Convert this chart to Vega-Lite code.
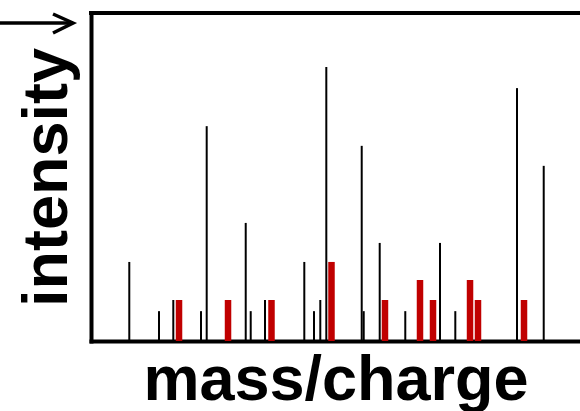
{
  "$schema": "https://vega.github.io/schema/vega-lite/v6.json",
  "width": 489,
  "height": 328,
  "autosize": {"type": "none"},
  "padding": {"left": 91, "top": 13, "right": 0, "bottom": 70},
  "background": "white",
  "config": {"view": {"stroke": null}, "axis": {"zindex": 1}},
  "datasets": {
    "peaks": [
      {"mz": 78.3, "intensity": 24.1, "series": "unmatched"},
      {"mz": 139.1, "intensity": 9.1, "series": "unmatched"},
      {"mz": 168.3, "intensity": 12.5, "series": "unmatched"},
      {"mz": 225.0, "intensity": 9.1, "series": "unmatched"},
      {"mz": 236.6, "intensity": 65.5, "series": "unmatched"},
      {"mz": 316.4, "intensity": 36.0, "series": "unmatched"},
      {"mz": 326.6, "intensity": 9.1, "series": "unmatched"},
      {"mz": 355.8, "intensity": 12.5, "series": "unmatched"},
      {"mz": 436.2, "intensity": 24.1, "series": "unmatched"},
      {"mz": 456.0, "intensity": 9.1, "series": "unmatched"},
      {"mz": 468.9, "intensity": 12.5, "series": "unmatched"},
      {"mz": 481.2, "intensity": 83.5, "series": "unmatched"},
      {"mz": 553.6, "intensity": 59.5, "series": "unmatched"},
      {"mz": 557.7, "intensity": 9.1, "series": "unmatched"},
      {"mz": 590.4, "intensity": 29.9, "series": "unmatched"},
      {"mz": 642.7, "intensity": 9.1, "series": "unmatched"},
      {"mz": 713.7, "intensity": 29.9, "series": "unmatched"},
      {"mz": 745.0, "intensity": 9.1, "series": "unmatched"},
      {"mz": 871.2, "intensity": 77.1, "series": "unmatched"},
      {"mz": 925.8, "intensity": 53.4, "series": "unmatched"},
      {"mz": 180.0, "intensity": 12.5, "series": "matched"},
      {"mz": 280.2, "intensity": 12.5, "series": "matched"},
      {"mz": 369.1, "intensity": 12.5, "series": "matched"},
      {"mz": 491.8, "intensity": 24.1, "series": "matched"},
      {"mz": 601.2, "intensity": 12.5, "series": "matched"},
      {"mz": 672.8, "intensity": 18.6, "series": "matched"},
      {"mz": 699.4, "intensity": 12.5, "series": "matched"},
      {"mz": 775.1, "intensity": 18.6, "series": "matched"},
      {"mz": 791.4, "intensity": 12.5, "series": "matched"},
      {"mz": 885.5, "intensity": 12.5, "series": "matched"}
    ],
    "arrow": [
      {"ax": -186.1, "ay": 96.95, "seg": "shaft", "ord": 1},
      {"ax": -36.8, "ay": 96.95, "seg": "shaft", "ord": 2},
      {"ax": -77.7, "ay": 99.7, "seg": "head", "ord": 1},
      {"ax": -36.8, "ay": 96.95, "seg": "head", "ord": 2},
      {"ax": -77.7, "ay": 93.9, "seg": "head", "ord": 3}
    ]
  },
  "layer": [
    {
      "data": {"name": "peaks"},
      "transform": [{"filter": "datum.series === 'unmatched'"}],
      "mark": {"type": "rule", "color": "black", "strokeWidth": 2},
      "encoding": {
        "x": {
          "field": "mz", "type": "quantitative",
          "scale": {"domain": [0, 1000], "nice": false, "zero": false},
          "axis": {
            "title": "mass/charge", "labels": false, "ticks": false, "grid": false,
            "domainColor": "black", "domainWidth": 4, "domainCap": "square",
            "titleFont": "Liberation Sans", "titleFontSize": 63, "titleFontWeight": "bold",
            "titleColor": "black", "titlePadding": 8
          }
        },
        "y": {
          "field": "intensity", "type": "quantitative",
          "scale": {"domain": [0, 100], "nice": false},
          "axis": {
            "title": "intensity", "labels": false, "ticks": false, "grid": false,
            "domainColor": "black", "domainWidth": 4, "domainCap": "square",
            "titleFont": "Liberation Sans", "titleFontSize": 63, "titleFontWeight": "bold",
            "titleColor": "black", "titlePadding": 12
          }
        },
        "y2": {"datum": 0}
      }
    },
    {
      "data": {"name": "peaks"},
      "transform": [{"filter": "datum.series === 'matched'"}],
      "mark": {"type": "rule", "color": "#c00000", "strokeWidth": 6.5},
      "encoding": {
        "x": {"field": "mz", "type": "quantitative", "scale": {"domain": [0, 1000], "nice": false, "zero": false}},
        "y": {"field": "intensity", "type": "quantitative", "scale": {"domain": [0, 100], "nice": false}},
        "y2": {"datum": 0}
      }
    },
    {
      "data": {"values": [{}]},
      "mark": {"type": "rule", "color": "black", "strokeWidth": 4, "strokeCap": "square"},
      "encoding": {
        "y": {"datum": 100, "type": "quantitative", "scale": {"domain": [0, 100], "nice": false}}
      }
    },
    {
      "data": {"name": "arrow"},
      "mark": {"type": "line", "color": "black", "strokeWidth": 3.5, "clip": false},
      "encoding": {
        "x": {"field": "ax", "type": "quantitative", "scale": {"domain": [0, 1000], "nice": false, "zero": false}},
        "y": {"field": "ay", "type": "quantitative", "scale": {"domain": [0, 100], "nice": false}},
        "detail": {"field": "seg"},
        "order": {"field": "ord"}
      }
    }
  ]
}
